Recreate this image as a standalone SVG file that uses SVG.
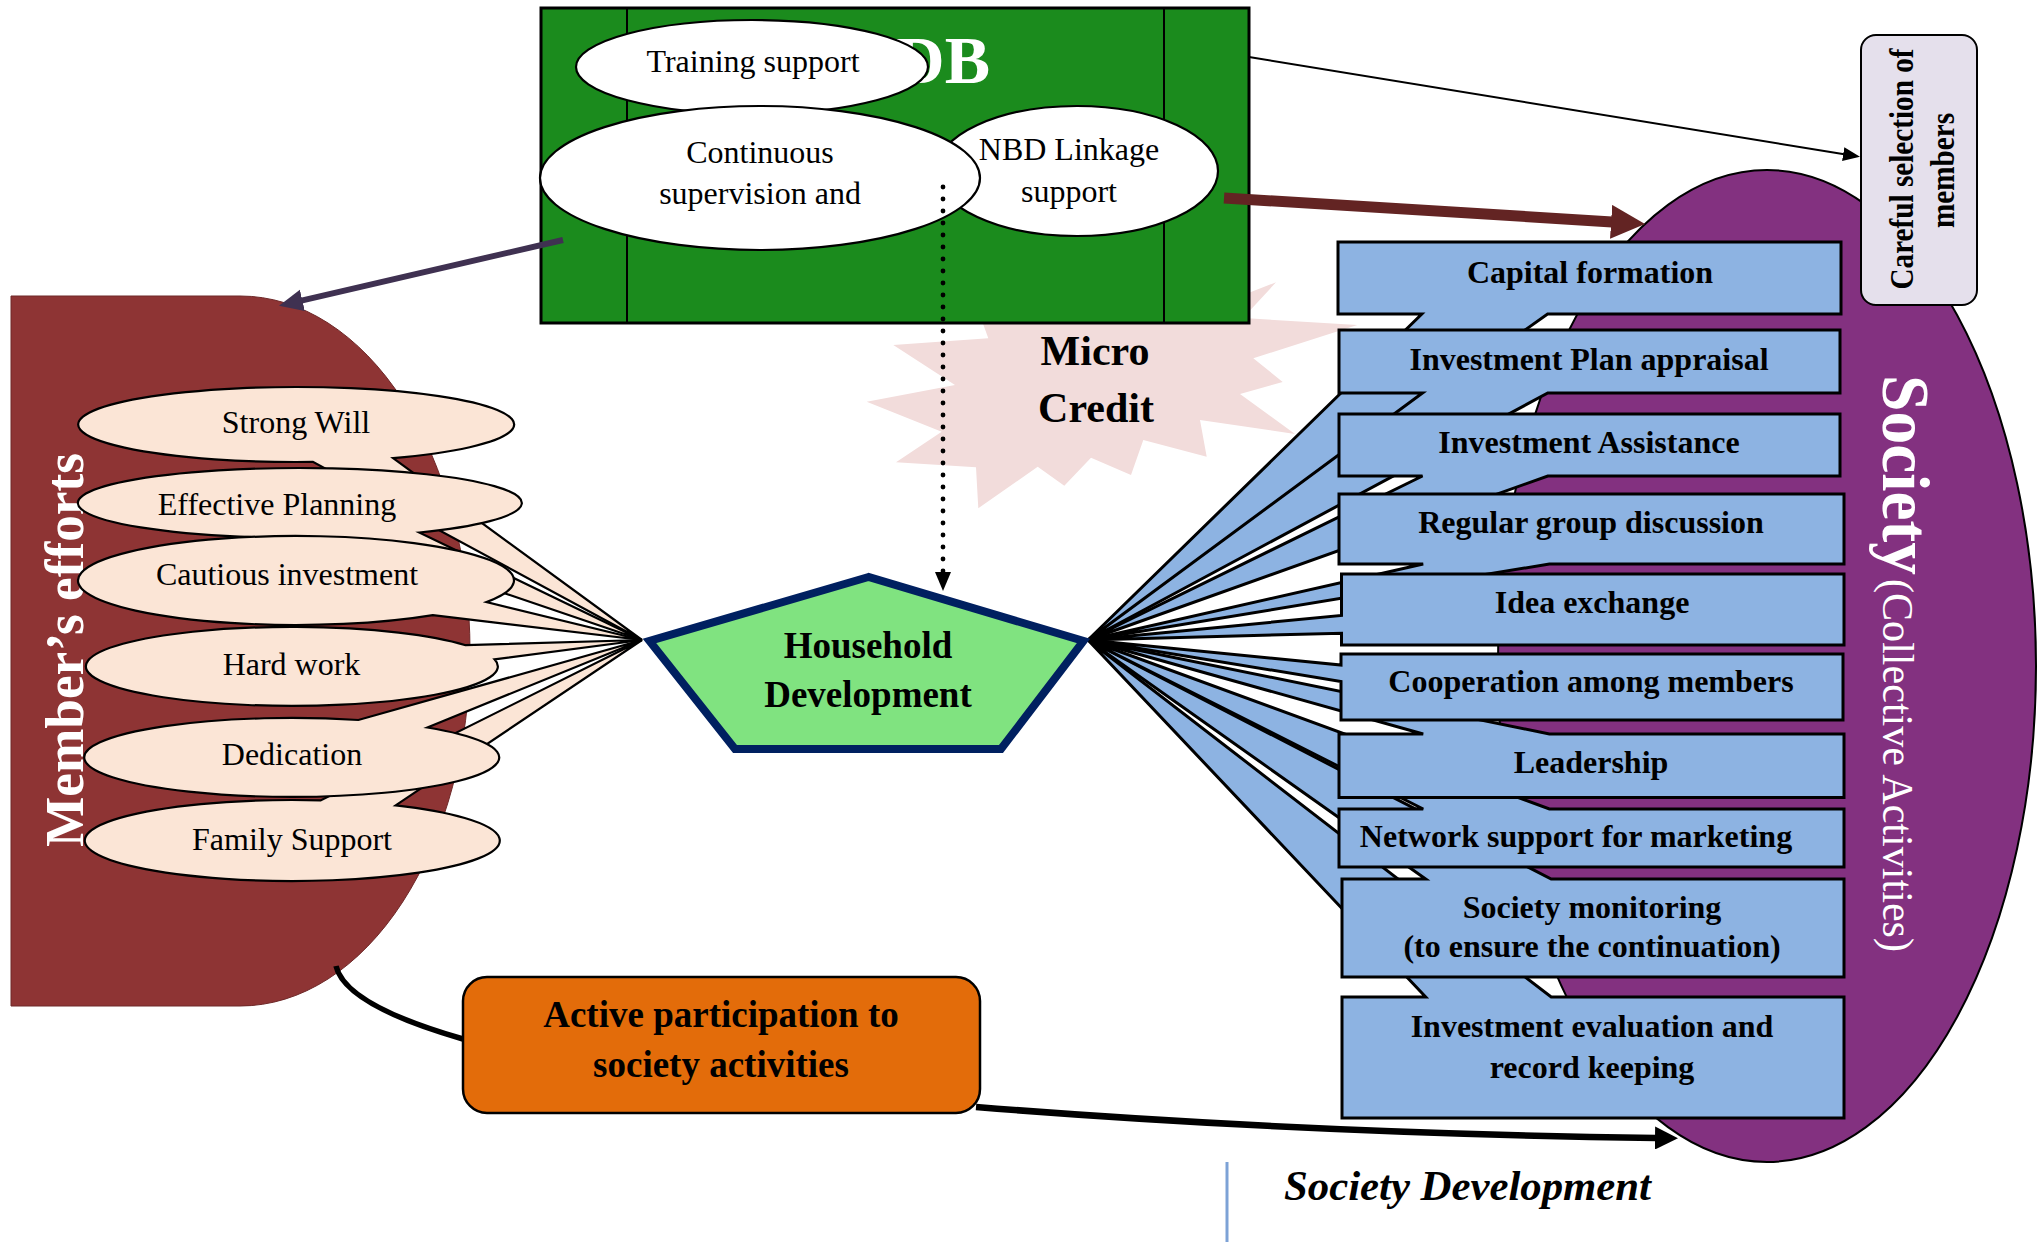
<svg xmlns="http://www.w3.org/2000/svg" width="2040" height="1242" viewBox="0 0 2040 1242">
  <defs>
    <style>
      text { font-family: "Liberation Serif", "Times New Roman", serif; fill: #000; }
      .r32 { font-size: 32px; text-anchor: middle; }
      .b32 { font-size: 32px; font-weight: bold; text-anchor: middle; }
      .b37 { font-size: 37px; font-weight: bold; text-anchor: middle; }
      .oval { fill: #ffffff; stroke: #000; stroke-width: 2.2; }
      .peach { fill: #fbe5d6; stroke: #000; stroke-width: 2.2; stroke-linejoin: miter; }
      .blue { fill: #8db3e2; stroke: #000; stroke-width: 3; stroke-linejoin: miter; }
      .white { fill: #ffffff; }
    </style>
    <marker id="headNavy" markerUnits="userSpaceOnUse" markerWidth="26" markerHeight="24" refX="1" refY="11" orient="auto">
      <path d="M0,0 L24,11 L0,22 Z" fill="#3f3151"/>
    </marker>
    <marker id="headMaroon" markerUnits="userSpaceOnUse" markerWidth="36" markerHeight="34" refX="1" refY="17" orient="auto">
      <path d="M0,0 L34,17 L0,34 Z" fill="#632423"/>
    </marker>
    <marker id="headThin" markerUnits="userSpaceOnUse" markerWidth="18" markerHeight="14" refX="1" refY="7" orient="auto">
      <path d="M0,0 L17,7 L0,14 Z" fill="#000"/>
    </marker>
    <marker id="headDot" markerUnits="userSpaceOnUse" markerWidth="20" markerHeight="16" refX="1" refY="8" orient="auto">
      <path d="M0,0 L19,8 L0,16 Z" fill="#000"/>
    </marker>
    <marker id="headBig" markerUnits="userSpaceOnUse" markerWidth="25" markerHeight="23" refX="1" refY="11.5" orient="auto">
      <path d="M0,0 L23,11.5 L0,23 Z" fill="#000"/>
    </marker>
  </defs>

  <rect width="2040" height="1242" fill="#ffffff"/>

  <!-- Micro Credit burst (sits behind the NDB panel) -->
  <g id="micro-credit">
    <polygon fill="#f2dcdb" points="970,288 1061.7,310 1088.3,266.7 1128.3,295 1203.3,243.3 1196.7,313.3 1276,282.3 1243,318 1357.3,325 1253.3,358.3 1282.7,382 1240,394 1295,434 1200,420 1206.7,456.7 1143.3,440 1131,475 1091,457.7 1064.3,485.7 1037.7,466.7 978.3,508.3 976,467.3 896,462.3 941.7,431.7 866.7,401.7 955,385 893.3,345 988.3,338.3"/>
  </g>

  <!-- NDB panel with its three support ovals -->
  <g id="ndb">
    <rect x="541" y="8" width="708" height="315" fill="#1b8b1d" stroke="#000" stroke-width="3"/>
    <line x1="627" y1="8" x2="627" y2="323" stroke="#000" stroke-width="2"/>
    <line x1="1164" y1="8" x2="1164" y2="323" stroke="#000" stroke-width="2"/>
    <text x="990" y="83" class="white" style="font-size:68px;font-weight:bold;text-anchor:end;fill:#fff">NDB</text>
  </g>
  <g id="training-support">
    <ellipse class="oval" cx="752" cy="67" rx="176" ry="47"/>
    <text class="r32" x="753" y="72">Training support</text>
  </g>
  <g id="nbd-linkage">
    <ellipse class="oval" cx="1077" cy="171" rx="141" ry="65"/>
    <text class="r32" x="1069" y="160">NBD Linkage</text>
    <text class="r32" x="1069" y="202">support</text>
  </g>
  <g id="continuous-supervision">
    <ellipse class="oval" cx="760" cy="178" rx="220" ry="72"/>
    <text class="r32" x="760" y="163">Continuous</text>
    <text class="r32" x="760" y="204">supervision and</text>
  </g>

  <!-- Member's efforts panel -->
  <g id="members-efforts">
    <path d="M11,296 H240 A230,355 0 0 1 240,1006 H11 Z" fill="#8e3434" stroke="#6e2828" stroke-width="1"/>
    <text transform="translate(83,650) rotate(-90)" style="font-size:54px;font-weight:bold;text-anchor:middle;fill:#fff" textLength="394" lengthAdjust="spacingAndGlyphs">Member’s efforts</text>
  </g>

  <!-- Society ellipse -->
  <g id="society">
    <ellipse cx="1767" cy="666" rx="269" ry="496" fill="#833180" stroke="#000" stroke-width="2"/>
    <text transform="translate(1883,375) rotate(90)" style="font-size:68px;font-weight:bold;fill:#fff" textLength="200" lengthAdjust="spacingAndGlyphs">Society</text>
    <text transform="translate(1883,579) rotate(90)" style="font-size:44px;fill:#fff" textLength="373" lengthAdjust="spacingAndGlyphs">(Collective Activities)</text>
  </g>

  <g id="careful-selection">
    <rect x="1861" y="35" width="116" height="270" rx="15" fill="#e5e0ec" stroke="#000" stroke-width="2"/>
    <text transform="translate(1913,169) rotate(-90)" style="font-size:33px;font-weight:bold;text-anchor:middle" textLength="241" lengthAdjust="spacingAndGlyphs">Careful selection of</text>
    <text transform="translate(1954,170.5) rotate(-90)" style="font-size:33px;font-weight:bold;text-anchor:middle" textLength="115" lengthAdjust="spacingAndGlyphs">members</text>
  </g>

  <!-- Member effort callouts, tails meet at the pentagon's left corner -->
  <g id="strong-will">
    <path class="peach" d="M642,640 L312.9,461.9 A218,37.5 0 1 1 393.1,458.1 Z"/>
    <text class="r32" x="296" y="433">Strong Will</text>
  </g>
  <g id="effective-planning">
    <path class="peach" d="M642,640 L340.4,537.4 A222,35 0 1 1 419.2,532.5 Z"/>
    <text class="r32" x="277" y="515">Effective Planning</text>
  </g>
  <g id="cautious-investment">
    <path class="peach" d="M642,640 L432.9,615.1 A218,44.5 0 1 1 486.5,602.1 Z"/>
    <text class="r32" x="287" y="585">Cautious investment</text>
  </g>
  <g id="family-support">
    <path class="peach" d="M642,640 L395.6,805.4 A207.5,40.5 0 1 1 320.6,800.4 Z"/>
    <text class="r32" x="292" y="850">Family Support</text>
  </g>
  <g id="dedication">
    <path class="peach" d="M642,640 L427.3,727.5 A207.5,39.5 0 1 1 358.4,720 Z"/>
    <text class="r32" x="292" y="765">Dedication</text>
  </g>
  <g id="hard-work">
    <path class="peach" d="M642,640 L494.5,659.3 A206,39.5 0 1 1 465.7,645.2 Z"/>
    <text class="r32" x="291.5" y="675">Hard work</text>
  </g>

  <!-- Society activity callouts, tails meet at the pentagon's right corner -->
  <g id="capital-formation">
    <path class="blue" d="M1338,242 H1841 V314 H1547.6 L1088,640 L1421.8,314 H1338 Z"/>
    <text class="b32" x="1590" y="283">Capital formation</text>
  </g>
  <g id="investment-plan-appraisal">
    <path class="blue" d="M1339,330 H1840 V393 H1547.8 L1088,640 L1422.5,393 H1339 Z"/>
    <text class="b32" x="1589" y="370">Investment Plan appraisal</text>
  </g>
  <g id="investment-assistance">
    <path class="blue" d="M1339,414 H1840 V476 H1547.8 L1088,640 L1422.5,476 H1339 Z"/>
    <text class="b32" x="1589" y="453">Investment Assistance</text>
  </g>
  <g id="regular-group-discussion">
    <path class="blue" d="M1339,494 H1844 V564 H1549.4 L1088,640 L1423.2,564 H1339 Z"/>
    <text class="b32" x="1591" y="533">Regular group discussion</text>
  </g>
  <g id="investment-evaluation">
    <path class="blue" d="M1342,997 H1425.7 L1088,640 L1551.2,997 H1844 V1118 H1342 Z"/>
    <text class="b32" x="1592" y="1037">Investment evaluation and</text>
    <text class="b32" x="1592" y="1078">record keeping</text>
  </g>
  <g id="society-monitoring">
    <path class="blue" d="M1342,879 H1425.7 L1088,640 L1551.2,879 H1844 V977 H1342 Z"/>
    <text class="b32" x="1592" y="918">Society monitoring</text>
    <text class="b32" x="1592" y="957">(to ensure the continuation)</text>
  </g>
  <g id="network-support">
    <path class="blue" d="M1339,809 H1423.2 L1088,640 L1549.4,809 H1844 V867 H1339 Z"/>
    <text class="b32" x="1576" y="847">Network support for marketing</text>
  </g>
  <g id="leadership">
    <path class="blue" d="M1339,734 H1423.2 L1088,640 L1549.4,734 H1844 V797.5 H1339 Z"/>
    <text class="b32" x="1591" y="773">Leadership</text>
  </g>
  <g id="cooperation">
    <path class="blue" d="M1341,654 H1843 V720 H1341 V681.5 L1088,640 L1341,665 Z"/>
    <text class="b32" x="1591" y="692">Cooperation among members</text>
  </g>
  <g id="idea-exchange">
    <path class="blue" d="M1341.5,574 H1844 V645 H1341.5 V633.2 L1088,640 L1341.5,615.4 Z"/>
    <text class="b32" x="1592" y="613">Idea exchange</text>
  </g>

  <!-- Household Development pentagon -->
  <g id="household-development">
    <polygon points="868.5,577 649.5,641 735,749 1001,749 1083.5,641" fill="#80e380" stroke="#002060" stroke-width="8" stroke-linejoin="miter"/>
    <text class="b37" x="868" y="658">Household</text>
    <text class="b37" x="868" y="707">Development</text>
  </g>

  <g id="micro-credit-label">
    <text x="1095" y="365" style="font-size:42px;font-weight:bold;text-anchor:middle">Micro</text>
    <text x="1096" y="422" style="font-size:42px;font-weight:bold;text-anchor:middle">Credit</text>
  </g>

  <!-- Connectors -->
  <g id="connectors" fill="none">
    <path d="M563,240 L301.4,300.6" stroke="#3f3151" stroke-width="6" marker-end="url(#headNavy)"/>
    <path d="M1224,198 L1612.1,221.9" stroke="#632423" stroke-width="11" marker-end="url(#headMaroon)"/>
    <path d="M1249,57 L1844.2,154.2" stroke="#000" stroke-width="2" marker-end="url(#headThin)"/>
    <path d="M943,187 V573" stroke="#000" stroke-width="4.8" stroke-linecap="round" stroke-dasharray="0 12" marker-end="url(#headDot)"/>
    <path d="M336,966 Q345,1005 463,1039" stroke="#000" stroke-width="5.5"/>
    <path d="M976,1107 Q1300,1133 1656,1138" stroke="#000" stroke-width="6.5" marker-end="url(#headBig)"/>
  </g>

  <g id="active-participation">
    <rect x="463" y="977" width="517" height="136" rx="24" fill="#e36c0a" stroke="#000" stroke-width="2.5"/>
    <text class="b37" x="721" y="1027">Active participation to</text>
    <text class="b37" x="721" y="1077">society activities</text>
  </g>

  <g id="society-development">
    <line x1="1227" y1="1162" x2="1227" y2="1242" stroke="#7da2d6" stroke-width="3"/>
    <text x="1284" y="1200" style="font-size:43px;font-weight:bold;font-style:italic" textLength="367" lengthAdjust="spacingAndGlyphs">Society Development</text>
  </g>
</svg>
